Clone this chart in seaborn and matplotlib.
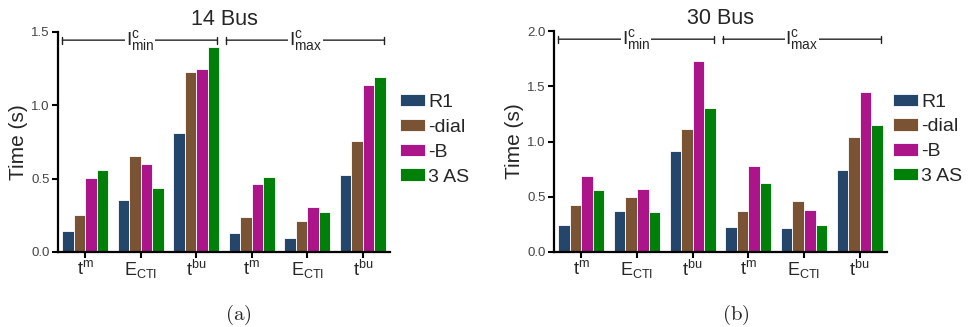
import pandas as pd
import matplotlib
matplotlib.use("Agg")
import matplotlib.pyplot as plt
import matplotlib.transforms as mtransforms
import seaborn as sns

# categories (6 groups, 3 per current level) and the 4 methods
groups = ["tm_min", "ecti_min", "tbu_min", "tm_max", "ecti_max", "tbu_max"]
group_labels = [r"$\mathregular{t^{m}}$", r"$\mathregular{E_{CTI}}$", r"$\mathregular{t^{bu}}$",
                r"$\mathregular{t^{m}}$", r"$\mathregular{E_{CTI}}$", r"$\mathregular{t^{bu}}$"]
methods = ["R1", "-dial", "-B", "3 AS"]
colors = ["#23466A", "#7A5334", "#AC1489", "#008009"]

# 14 bus values (s)
bus14_r1 = [0.146, 0.356, 0.809, 0.132, 0.093, 0.527]
bus14_dial = [0.253, 0.656, 1.226, 0.242, 0.212, 0.759]
bus14_b = [0.506, 0.597, 1.245, 0.467, 0.305, 1.142]
bus14_3as = [0.556, 0.435, 1.395, 0.508, 0.276, 1.192]

# 30 bus values (s)
bus30_r1 = [0.247, 0.370, 0.910, 0.226, 0.217, 0.738]
bus30_dial = [0.428, 0.500, 1.111, 0.370, 0.458, 1.039]
bus30_b = [0.690, 0.566, 1.729, 0.777, 0.380, 1.452]
bus30_3as = [0.557, 0.358, 1.307, 0.620, 0.244, 1.145]


def make_df(series):
    rows = []
    for m, vals in zip(methods, series):
        for g, v in zip(groups, vals):
            rows.append({"Group": g, "Method": m, "Time": v})
    return pd.DataFrame(rows)


df14 = make_df([bus14_r1, bus14_dial, bus14_b, bus14_3as])
df30 = make_df([bus30_r1, bus30_dial, bus30_b, bus30_3as])

sns.set_style("white")
plt.rcParams['font.family'] = ['Liberation Sans', 'DejaVu Sans']

fig = plt.figure(figsize=(9.74, 3.27), dpi=100)
ax1 = fig.add_axes([58/974, 75/327, 332/974, 220/327])
ax2 = fig.add_axes([554/974, 75/327, 333/974, 221/327])


def draw(ax, df, title, ymax, yticks, leg_x):
    sns.barplot(data=df, x="Group", y="Time", hue="Method", order=groups,
                hue_order=methods, palette=colors, saturation=1, width=0.83,
                edgecolor="white", linewidth=0.6, ax=ax, legend=True)
    ax.set_xlim(-0.49, 5.49)
    ax.set_ylim(0, ymax)
    ax.set_yticks(yticks)
    ax.set_yticklabels(["%.1f" % t for t in yticks], fontsize=9.5, color="#444444")
    ax.set_xticks(range(len(groups)))
    ax.set_xticklabels(group_labels, fontsize=13)
    ax.tick_params(axis="both", direction="out", length=4, width=1.5,
                   bottom=True, left=True, color="black", pad=2)
    ax.set_xlabel("")
    ax.set_ylabel("Time (s)", fontsize=15, labelpad=2)
    ax.set_title(title, fontsize=15.5, pad=5)
    for s in ["top", "right"]:
        ax.spines[s].set_visible(False)
    for s in ["left", "bottom"]:
        ax.spines[s].set_linewidth(1.6)
        ax.spines[s].set_color("black")

    # current level brackets above the bars
    trans = mtransforms.blended_transform_factory(ax.transData, ax.transAxes)
    for (x0, x1), lab in [((-0.41, 2.38), r"$\mathregular{I^{c}_{min}}$"),
                          ((2.54, 5.39), r"$\mathregular{I^{c}_{max}}$")]:
        ax.annotate("", xy=(x0, 0.963), xytext=(x1, 0.963), xycoords=trans,
                    textcoords=trans, annotation_clip=False,
                    arrowprops=dict(arrowstyle="|-|,widthA=0.25,widthB=0.25",
                                    color="#222222", lw=1.0, shrinkA=0, shrinkB=0))
        ax.text((x0 + x1) / 2, 0.963, lab, transform=trans, fontsize=14,
                ha="center", va="center",
                bbox=dict(facecolor="white", edgecolor="none", pad=0.5))

    ax.legend(loc="center left", bbox_to_anchor=(leg_x, 0.51), frameon=False,
              fontsize=14, handlelength=1.3, handleheight=0.6,
              handletextpad=0.15, labelspacing=0.4, borderaxespad=0,
              borderpad=0)


draw(ax1, df14, "14 Bus", 1.5, [0.0, 0.5, 1.0, 1.5], 1.03)
draw(ax2, df30, "30 Bus", 2.0, [0.0, 0.5, 1.0, 1.5, 2.0], 1.018)

fig.text(238/974, 1 - 315/327, r"$\mathrm{(a)}$", fontsize=15, math_fontfamily="cm",
         ha="center", va="center")
fig.text(736/974, 1 - 315/327, r"$\mathrm{(b)}$", fontsize=15, math_fontfamily="cm",
         ha="center", va="center")

fig.savefig("out.png", dpi=100)
